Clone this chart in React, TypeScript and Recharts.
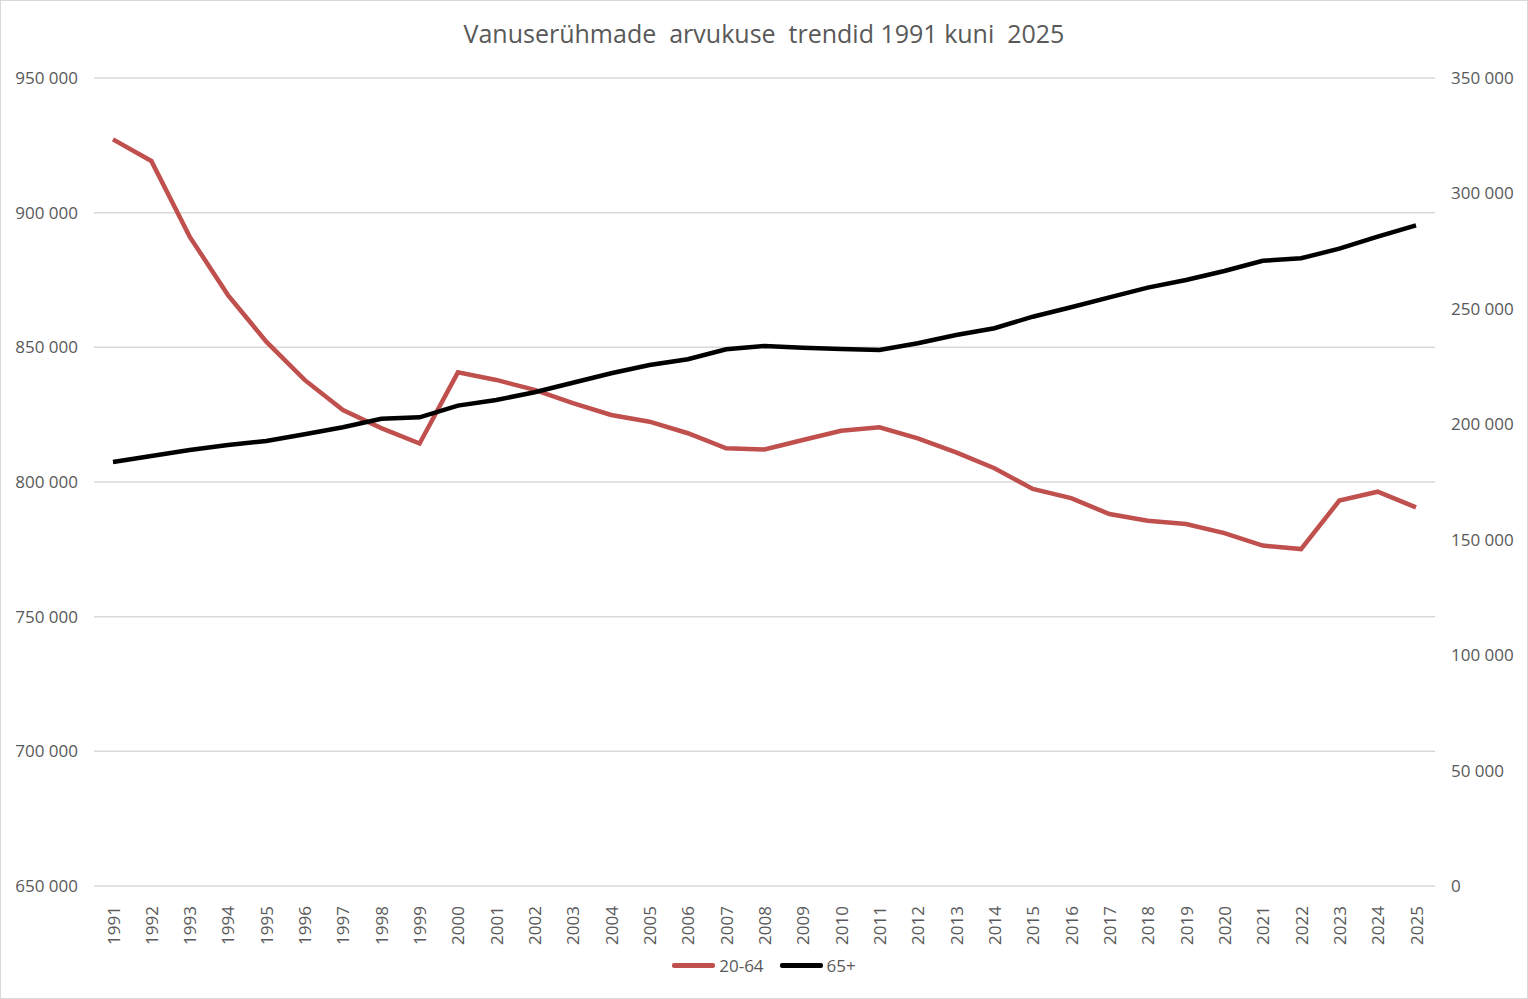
import { CartesianGrid, Line, LineChart, XAxis, YAxis } from "recharts";

const years = [
  "1991", "1992", "1993", "1994", "1995", "1996", "1997", "1998", "1999", "2000",
  "2001", "2002", "2003", "2004", "2005", "2006", "2007", "2008", "2009", "2010",
  "2011", "2012", "2013", "2014", "2015", "2016", "2017", "2018", "2019", "2020",
  "2021", "2022", "2023", "2024", "2025",
];

// 20-64 (vasak telg)
const age2064 = [
  927200, 919200, 891100, 869400, 852100, 837900, 826700, 820000, 814300, 840700,
  837900, 834200, 829300, 824900, 822400, 818100, 812500, 812100, 815600, 819000,
  820300, 816200, 811000, 805100, 797400, 794000, 788100, 785600, 784400, 781000,
  776400, 775100, 793100, 796400, 790600,
];

// 65+ (parem telg)
const age65 = [
  183700, 186300, 188900, 191000, 192800, 195700, 198700, 202400, 203000, 208100,
  210500, 213900, 218000, 222100, 225700, 228200, 232500, 233900, 233100, 232600,
  232200, 235100, 238700, 241600, 246600, 250700, 255000, 259200, 262500, 266400,
  270800, 271900, 276100, 281300, 286200,
];

const leftTicks = [650000, 700000, 750000, 800000, 850000, 900000, 950000];
const rightTicks = [0, 50000, 100000, 150000, 200000, 250000, 300000, 350000];

const data = years.map((year, i) => ({ year, a: age2064[i], b: age65[i] }));

const FONT = "'Open Sans', sans-serif";
const TEXT = "#595959";
const RED = "#C0504D";

const fmt = (v: number) => String(v).replace(/\B(?=(\d{3})+(?!\d))/g, " ");

function YearTick(props: any) {
  const { x, y, payload } = props;
  return (
    <text
      x={x}
      y={y + 12}
      transform={`rotate(-90, ${x}, ${y + 12})`}
      textAnchor="end"
      dominantBaseline="central"
      fontSize={17}
      fontFamily={FONT}
      fill={TEXT}
    >
      {payload.value}
    </text>
  );
}

export default function App() {
  return (
    <div style={{ position: "absolute", left: 0, top: 0, width: 1528, height: 999, background: "#fff" }}>
      <div
        style={{
          position: "absolute",
          left: 0,
          top: 16,
          width: 1528,
          textAlign: "center",
          fontFamily: FONT,
          fontSize: 25,
          color: TEXT,
          whiteSpace: "pre",
        }}
      >
        {"Vanuserühmade  arvukuse  trendid 1991 kuni  2025"}
      </div>
      <LineChart width={1528} height={999} data={data} margin={{ top: 78, right: 0, bottom: 53, left: 0 }}>
        <CartesianGrid yAxisId="left" vertical={false} stroke="#d9d9d9" strokeWidth={1.5} />
        <XAxis
          dataKey="year"
          interval={0}
          axisLine={false}
          tickLine={false}
          height={60}
          padding={{ left: 19, right: 19 }}
          tick={<YearTick />}
        />
        <YAxis
          yAxisId="left"
          width={94}
          domain={[650000, 950000]}
          ticks={leftTicks}
          axisLine={false}
          tickLine={false}
          tickMargin={10}
          tickFormatter={fmt}
          tick={{ fontSize: 17, fill: TEXT, fontFamily: FONT }}
        />
        <YAxis
          yAxisId="right"
          orientation="right"
          width={93}
          domain={[0, 350000]}
          ticks={rightTicks}
          axisLine={false}
          tickLine={false}
          tickMargin={10}
          tickFormatter={fmt}
          tick={{ fontSize: 17, fill: TEXT, fontFamily: FONT, textAnchor: "start" }}
        />
        <Line
          yAxisId="left"
          dataKey="a"
          name="20-64"
          stroke={RED}
          strokeWidth={4.5}
          dot={false}
          isAnimationActive={false}
        />
        <Line
          yAxisId="right"
          dataKey="b"
          name="65+"
          stroke="#000"
          strokeWidth={4.5}
          dot={false}
          isAnimationActive={false}
        />
      </LineChart>
      <div
        style={{
          position: "absolute",
          left: 0,
          top: 954,
          width: 1528,
          display: "flex",
          justifyContent: "center",
          alignItems: "center",
          fontFamily: FONT,
          fontSize: 17,
          color: TEXT,
        }}
      >
        <span style={{ display: "inline-block", width: 43, height: 4.5, background: RED, borderRadius: 2, marginRight: 4 }} />
        <span style={{ marginRight: 16 }}>20-64</span>
        <span style={{ display: "inline-block", width: 43, height: 4.5, background: "#000", borderRadius: 2, marginRight: 4 }} />
        <span>65+</span>
      </div>
      <div
        style={{
          position: "absolute",
          left: 0,
          top: 0,
          width: 1528,
          height: 999,
          boxSizing: "border-box",
          border: "1.5px solid #d9d9d9",
          pointerEvents: "none",
        }}
      />
    </div>
  );
}
